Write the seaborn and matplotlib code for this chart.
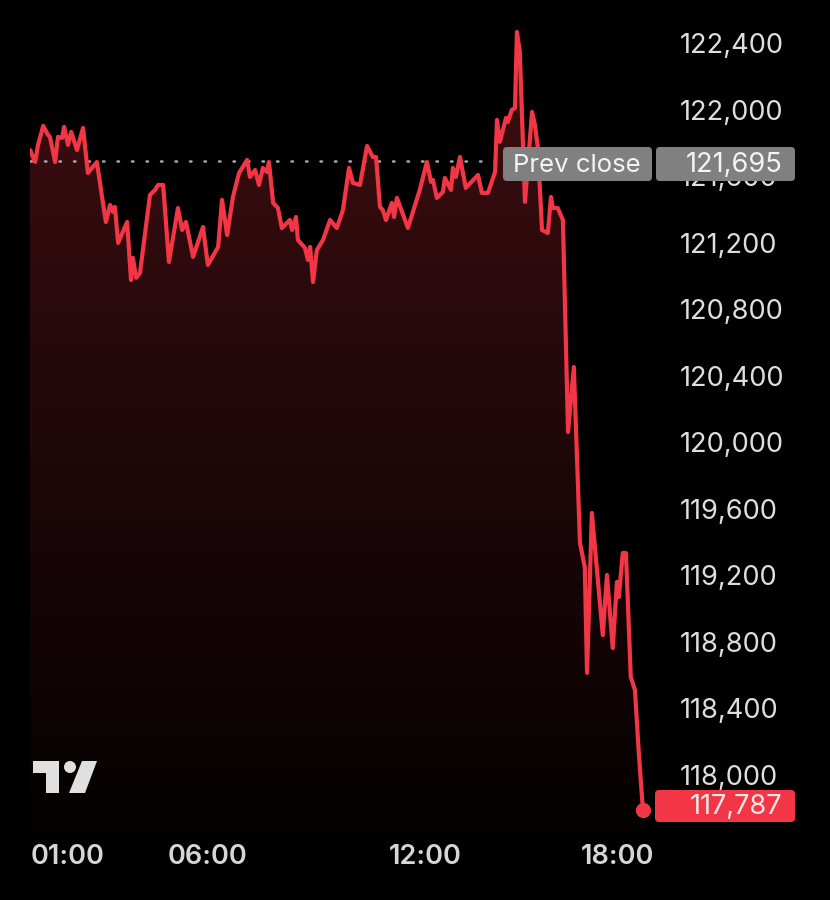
import numpy as np
import matplotlib
matplotlib.use("Agg")
import matplotlib.pyplot as plt
import seaborn as sns
from matplotlib.patches import Polygon, FancyBboxPatch, Circle
from matplotlib.transforms import Affine2D

# ---------------- data (hours since midnight, price) ----------------
hours = [-0.28, -0.12, -0.03, 0.13, 0.28, 0.34, 0.50, 0.59, 0.72, 0.78, 0.90, 1.00,
         1.18, 1.37, 1.52, 1.80, 1.96, 2.08, 2.21, 2.30, 2.36, 2.46, 2.74, 2.86,
         2.92, 3.02, 3.14, 3.45, 3.61, 3.70, 3.86, 4.04, 4.32, 4.45, 4.57, 4.79,
         5.10, 5.25, 5.57, 5.69, 5.85, 6.03, 6.22, 6.47, 6.56, 6.72, 6.84, 6.96,
         7.09, 7.15, 7.28, 7.43, 7.55, 7.80, 7.87, 7.99, 8.05, 8.27, 8.36, 8.43,
         8.52, 8.64, 8.83, 9.05, 9.26, 9.45, 9.64, 9.76, 9.98, 10.20, 10.38, 10.48,
         10.60, 10.69, 10.79, 10.97, 11.04, 11.13, 11.47, 11.84, 12.06, 12.19, 12.25,
         12.37, 12.56, 12.62, 12.81, 12.87, 12.96, 13.09, 13.27, 13.65, 13.77, 13.96,
         14.18, 14.24, 14.33, 14.52, 14.58, 14.70, 14.80, 14.86, 14.95, 15.11, 15.33,
         15.42, 15.51, 15.64, 15.82, 15.92, 15.98, 16.13, 16.29, 16.45, 16.63, 16.82,
         16.97, 17.04, 17.19, 17.53, 17.66, 17.84, 17.97, 18.03, 18.15, 18.25, 18.40,
         18.53, 18.65, 18.78]
price = [121759, 121687, 121790, 121904, 121850, 121838, 121687, 121838, 121832, 121898, 121790, 121868,
         121759, 121892, 121621, 121687, 121477, 121326, 121429, 121386, 121417, 121200, 121326, 120977,
         121110, 120990, 121020, 121489, 121519, 121549, 121549, 121086, 121410, 121278, 121326, 121116,
         121296, 121068, 121176, 121459, 121248, 121477, 121621, 121699, 121597, 121639, 121549, 121651,
         121627, 121687, 121441, 121410, 121290, 121338, 121278, 121356, 121218, 121170, 121098, 121176,
         120965, 121158, 121218, 121338, 121290, 121398, 121651, 121561, 121549, 121783, 121717, 121717,
         121417, 121398, 121338, 121441, 121356, 121471, 121290, 121519, 121687, 121567, 121579,
         121471, 121507, 121591, 121519, 121651, 121597, 121717, 121531, 121609, 121501, 121501,
         121627, 121940, 121808, 121952, 121928, 122000, 122012, 122469, 122349, 121447, 121988,
         121910, 121777, 121278, 121260, 121477, 121410, 121410, 121338, 120063, 120454, 119396,
         119251, 118614, 119576, 118842, 119203, 118764, 119161, 119071, 119335, 119335, 118590,
         118511, 118132, 117787]
prev_close = 121695
last_price = 117787
y_ticks = [118000, 118400, 118800, 119200, 119600, 120000, 120400, 120800, 121200, 121600, 122000, 122400]
x_tick_labels = ["01:00", "06:00", "12:00", "18:00"]
x_tick_hours = [0.9, 5.25, 12.0, 18.0]

# ---------------- style ----------------
sns.set_theme(style="dark")
plt.rcParams["font.family"] = ["Inter", "DejaVu Sans"]
RED = "#f23645"
BG = "#000000"
TXT = "#dedede"

W, H = 830, 900
fig = plt.figure(figsize=(W / 100, H / 100), dpi=100, facecolor=BG)
ax = fig.add_axes([30 / W, 1 - 830 / H, (652 - 30) / W, (830 - 20) / H])
ax.set_facecolor(BG)

xmin, xmax = -0.28, 19.06
ymin, ymax = 117669, 122541
ax.set_xlim(xmin, xmax)
ax.set_ylim(ymin, ymax)

# gradient fill under line
poly_pts = list(zip(hours, price)) + [(hours[-1], ymin), (hours[0], ymin)]
clip = Polygon(poly_pts, closed=True, facecolor="none", edgecolor="none", transform=ax.transData)
ax.add_patch(clip)
n = 256
grad = np.zeros((n, 1, 4))
rgb = matplotlib.colors.to_rgb(RED)
grad[:, 0, 0] = rgb[0]
grad[:, 0, 1] = rgb[1]
grad[:, 0, 2] = rgb[2]
grad[:, 0, 3] = np.linspace(0.02, 0.26, n)
im = ax.imshow(grad, extent=[xmin, xmax, ymin, ymax], origin="lower", aspect="auto", zorder=1)
im.set_clip_path(clip)

# prev close dotted line
ax.axhline(prev_close, color="#a8a8a8", lw=1.8, linestyle=(0, (0.6, 5.2)),
           dash_capstyle="round", zorder=2)

# price line
sns.lineplot(x=hours, y=price, ax=ax, color=RED, lw=3.0, zorder=3, sort=False, estimator=None,
             solid_joinstyle="round", solid_capstyle="round")
ax.scatter([hours[-1]], [last_price], s=120, color=RED, zorder=4, linewidths=0)

# axes styling
for s in ax.spines.values():
    s.set_visible(False)
ax.grid(False)
ax.yaxis.tick_right()
ax.set_yticks(y_ticks)
ax.set_yticklabels([f"{v:,}" for v in y_ticks])
ax.tick_params(axis="y", length=0, pad=20, labelsize=19.6, labelcolor=TXT)
ax.set_xticks(x_tick_hours)
ax.set_xticklabels(x_tick_labels, fontweight="semibold")
ax.tick_params(axis="x", length=0, pad=10, labelsize=19.5, labelcolor="#d6d6d6")
ax.set_xlabel("")
ax.set_ylabel("")

# ---------------- overlay labels (pixel coords, y from top) ----------------
px = Affine2D().scale(1, -1).translate(0, H)

def box(x0, y0, x1, y1, color):
    p = FancyBboxPatch((x0, y0), x1 - x0, y1 - y0, boxstyle="round,pad=0,rounding_size=4",
                       transform=px, facecolor=color, edgecolor="none", zorder=10)
    fig.add_artist(p)

box(503, 147, 652, 181, "#808080")
box(656, 147, 795, 181, "#808080")
fig.text(577 / W, 1 - 165 / H, "Prev close", color="#f4f4f4", fontsize=18.5, ha="center",
         va="center", zorder=11)
fig.text(782 / W, 1 - 165 / H, f"{prev_close:,}", color="#f4f4f4", fontsize=19.6, ha="right",
         va="center", zorder=11)

box(655, 790, 795, 822, RED)
fig.text(782 / W, 1 - 807 / H, f"{last_price:,}", color="#fbe6e8", fontsize=19.6, ha="right",
         va="center", zorder=11)

# TradingView-like logo
LOGO = "#e0e0e0"
fig.add_artist(Polygon([(33, 761), (59, 761), (59, 793), (46, 793), (46, 773), (33, 773)],
                       closed=True, transform=px, facecolor=LOGO, edgecolor="none", zorder=10))
fig.add_artist(Circle((70, 767), 6, transform=px, facecolor=LOGO, edgecolor="none", zorder=10))
fig.add_artist(Polygon([(82, 761), (97, 761), (85, 793), (69, 793)], closed=True, transform=px,
                       facecolor=LOGO, edgecolor="none", zorder=10))

fig.savefig("out.png", dpi=100, facecolor=BG)
